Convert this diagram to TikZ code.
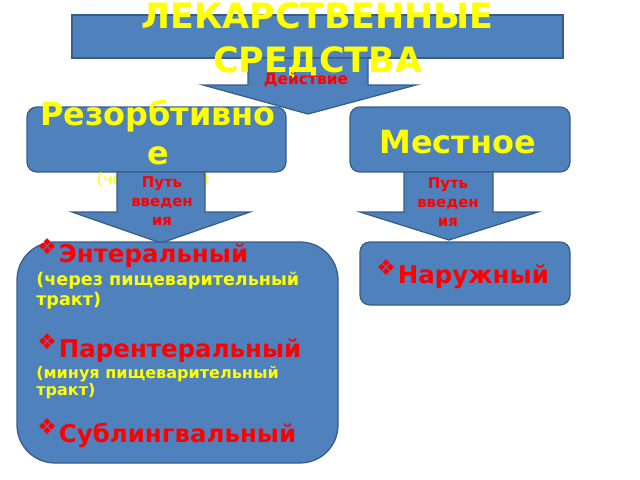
\documentclass[tikz,border=0pt]{standalone}
\usepackage{fontspec}
\setmainfont{DejaVu Sans}
\newfontfamily\dingfont{DejaVu Sans}
\definecolor{boxblue}{HTML}{4F81BD}
\definecolor{boxline}{HTML}{385D8A}
\definecolor{textyellow}{HTML}{FFFF00}
\definecolor{textred}{HTML}{FF0000}
\newcommand{\itembul}{\raisebox{5.2pt}{\dingfont\mdseries\fontsize{15.5}{15.5}\selectfont ❖}\kern1.5pt}
\begin{document}
\begin{tikzpicture}[x=0.025cm, y=-0.025cm,
   blk/.style={fill=boxblue, draw=boxline, line width=0.9pt},
   head/.style={text=textyellow, inner sep=0pt, align=center, font=\bfseries\fontsize{22.7}{27.6}\selectfont},
   way/.style={text=textred, inner sep=0pt, align=center, font=\bfseries\fontsize{10.6}{13.5}\selectfont},
   itm/.style={text=textred, inner sep=0pt, anchor=base west, font=\bfseries\fontsize{17.4}{20}\selectfont},
   note/.style={text=textyellow, inner sep=0pt, anchor=base west, align=left}]
   \useasboundingbox (0,0) rectangle (640,480);
   \filldraw[blk] (72,15) rectangle (563,58);
   \filldraw[blk] (248,58) -- (248,85) -- (203,85) -- (308,114) -- (416,85) -- (368,85) -- (368,58) -- cycle;
   \node[text=textyellow, inner sep=0pt, align=center, font=\bfseries\fontsize{24.8}{31.2}\selectfont] (title) at (317.5,40) {ЛЕКАРСТВЕННЫЕ\\СРЕДСТВА};
   \node[text=textred, inner sep=0pt, anchor=base, font=\bfseries\fontsize{11}{13}\selectfont] (action) at (306,85) {Действие};

   \filldraw[blk, rounded corners=7pt] (27,107) rectangle (286,172);
   \node[head, anchor=north] (resorb) at (158,100) {Резорбтивно\\е};
   \node[text=textyellow, inner sep=0pt, font=\fontsize{11.2}{13}\selectfont] (resorbnote) at (153,180) {(через кровь)};
   \filldraw[blk, rounded corners=7pt] (350,107) rectangle (570,172);
   \node[head, anchor=base] (local) at (457.5,153) {Местное};

   \filldraw[blk] (117,172) -- (117,212) -- (72,212) -- (161,243) -- (250,212) -- (205,212) -- (205,172) -- cycle;
   \node[way, anchor=north] (wayleft) at (162,176) {Путь\\введен\\ия};
   \filldraw[blk] (404,172) -- (404,212) -- (360,212) -- (449,240) -- (538,212) -- (493,212) -- (493,172) -- cycle;
   \node[way, anchor=north] (wayright) at (448,177) {Путь\\введен\\ия};

   \filldraw[blk, rounded corners=27pt] (17,242) rectangle (338,463);
   \node[itm] (enteral) at (37,262) {\itembul Энтеральный};
   \node[note, font=\bfseries\fontsize{12.5}{14.2}\selectfont] (enteralnote) at (36,305) {(через пищеварительный\\тракт)};
   \node[itm] (parenteral) at (37,357) {\itembul Парентеральный};
   \node[note, font=\bfseries\fontsize{11.4}{11.6}\selectfont] (parenteralnote) at (36,395) {(минуя пищеварительный\\тракт)};
   \node[itm] (sublingual) at (37,442) {\itembul Сублингвальный};

   \filldraw[blk, rounded corners=7pt] (360,242) rectangle (570,305);
   \node[itm] (outer) at (376,283) {\itembul Наружный};
\end{tikzpicture}
\end{document}
